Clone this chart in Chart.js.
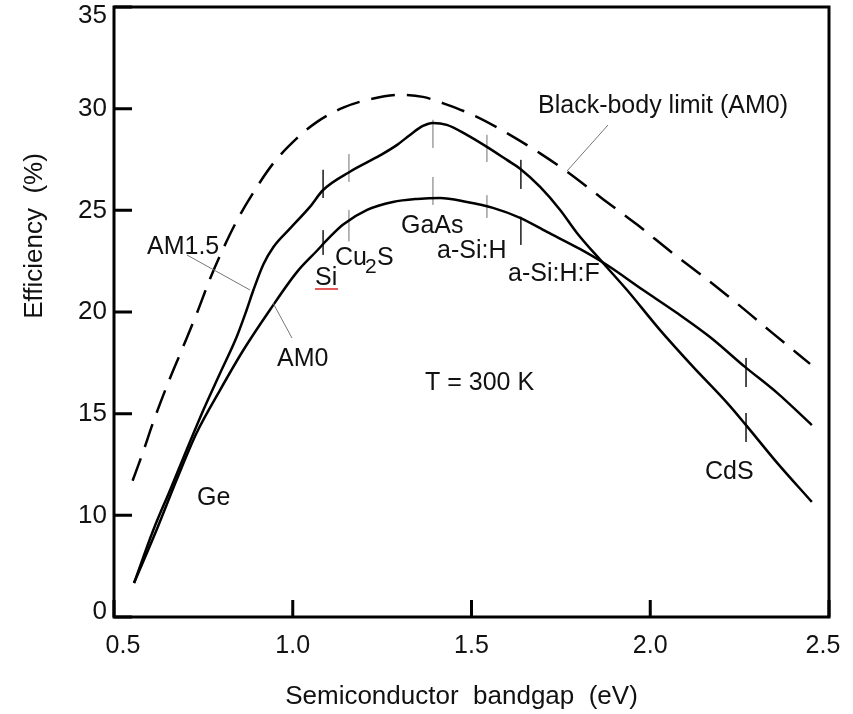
<!DOCTYPE html>
<html>
<head>
<meta charset="utf-8">
<script src="https://cdn.jsdelivr.net/npm/chart.js@4.4.1/dist/chart.umd.min.js"></script>
<style>
  html, body { margin: 0; padding: 0; background: #fff; }
  #wrap { width: 853px; height: 714px; }
</style>
</head>
<body>
<div id="wrap"><canvas id="effChart" width="853" height="714"></canvas></div>
<script>
// bandgap (eV) and efficiency (%)
var bbGap = [0.552, 0.581, 0.609, 0.651, 0.690, 0.732, 0.769, 0.805, 0.844, 0.889, 0.945, 1.012, 1.068, 1.141, 1.208, 1.300, 1.364, 1.431, 1.515, 1.599, 1.692, 1.767, 1.868, 1.963, 2.055, 2.159, 2.251, 2.343, 2.447];
var bbEff = [11.70, 13.10, 14.55, 16.50, 18.15, 19.95, 21.65, 23.10, 24.50, 25.85, 27.30, 28.55, 29.35, 30.05, 30.43, 30.68, 30.58, 30.20, 29.60, 28.80, 27.80, 26.90, 25.55, 24.30, 23.00, 21.60, 20.30, 18.95, 17.45];

var am15Gap = [0.556, 0.610, 0.657, 0.703, 0.750, 0.797, 0.843, 0.871, 0.890, 0.918, 0.946, 0.992, 1.048, 1.085, 1.160, 1.244, 1.292, 1.328, 1.364, 1.392, 1.431, 1.487, 1.543, 1.599, 1.636, 1.692, 1.748, 1.795, 1.868, 1.935, 2.027, 2.120, 2.215, 2.265, 2.355, 2.452];
var am15Eff = [6.67, 9.28, 11.25, 13.21, 15.18, 17.00, 18.77, 20.10, 21.08, 22.35, 23.20, 24.10, 25.17, 26.00, 26.90, 27.70, 28.22, 28.71, 29.15, 29.30, 29.20, 28.71, 28.12, 27.48, 27.05, 26.15, 25.02, 23.89, 22.41, 21.08, 19.12, 17.30, 15.53, 14.50, 12.58, 10.66];

var am0Gap = [0.556, 0.619, 0.675, 0.731, 0.797, 0.862, 0.936, 1.011, 1.067, 1.104, 1.141, 1.208, 1.280, 1.348, 1.412, 1.487, 1.560, 1.636, 1.711, 1.803, 1.879, 1.980, 2.075, 2.167, 2.265, 2.355, 2.452];
var am0Eff = [6.67, 9.28, 11.74, 14.05, 16.17, 18.13, 20.10, 21.95, 23.00, 23.69, 24.30, 25.02, 25.41, 25.56, 25.61, 25.41, 25.12, 24.63, 23.94, 23.10, 22.31, 21.08, 19.95, 18.77, 17.30, 16.02, 14.44];

// material bandgaps and the short vertical marks on the two solid curves
var matNames = ['Si', 'Cu2S', 'GaAs', 'a-Si:H', 'a-Si:H:F', 'CdS'];
var matGap = [1.085, 1.157, 1.392, 1.543, 1.638, 2.268];
var markUpTop = [26.99, 27.77, 29.45, 28.71, 27.48, 17.74];
var markUpBot = [25.61, 26.40, 28.07, 27.38, 26.05, 16.31];
var markLoTop = [24.02, 25.02, 26.64, 25.74, 24.68, 15.03];
var markLoBot = [22.81, 23.48, 25.27, 24.63, 23.30, 13.61];
var markDark = [true, false, false, false, true, true];

// axis ticks (the bottom of the axis is labelled 0 in the original)
var xTickVals = [0.5, 1.0, 1.5, 2.0, 2.5];
var xTickLabels = ['0.5', '1.0', '1.5', '2.0', '2.5'];
var yTickVals = [5, 10, 15, 20, 25, 30, 35];
var yTickLabels = ['0', '10', '15', '20', '25', '30', '35'];

function pts(xs, ys) {
  return xs.map(function (x, i) { return { x: x, y: ys[i] }; });
}

var datasets = [
  { label: 'Black-body limit (AM0)', data: pts(bbGap, bbEff), borderColor: '#000', borderWidth: 2.5, borderDash: [24, 12], cubicInterpolationMode: 'monotone' },
  { label: 'AM1.5', data: pts(am15Gap, am15Eff), borderColor: '#000', borderWidth: 2.5, cubicInterpolationMode: 'monotone' },
  { label: 'AM0', data: pts(am0Gap, am0Eff), borderColor: '#000', borderWidth: 2.5, cubicInterpolationMode: 'monotone' }
];
matGap.forEach(function (g, i) {
  var col = markDark[i] ? '#333' : '#aaa';
  datasets.push({ label: matNames[i] + ' up', data: [{ x: g, y: markUpTop[i] }, { x: g, y: markUpBot[i] }], borderColor: col, borderWidth: 1 });
  datasets.push({ label: matNames[i] + ' lo', data: [{ x: g, y: markLoTop[i] }, { x: g, y: markLoBot[i] }], borderColor: col, borderWidth: 1 });
});

var FONT = '"Liberation Sans", Arial, sans-serif';

var framePlugin = {
  id: 'frame',
  afterDraw: function (chart) {
    var ctx = chart.ctx, a = chart.chartArea;
    var xs = chart.scales.x, ys = chart.scales.y;
    ctx.save();
    ctx.strokeStyle = '#000';
    ctx.lineWidth = 3;
    ctx.strokeRect(a.left, a.top, a.right - a.left, a.bottom - a.top);

    // inward ticks
    ctx.beginPath();
    yTickVals.forEach(function (v) {
      var py = ys.getPixelForValue(v);
      ctx.moveTo(a.left, py); ctx.lineTo(a.left + 18, py);
    });
    xTickVals.forEach(function (v) {
      var px = xs.getPixelForValue(v);
      ctx.moveTo(px, a.bottom); ctx.lineTo(px, a.bottom - 17);
    });
    ctx.stroke();

    // tick labels
    ctx.fillStyle = '#111';
    ctx.font = '26px ' + FONT;
    ctx.textAlign = 'right';
    ctx.textBaseline = 'middle';
    yTickVals.forEach(function (v, i) {
      var py = Math.min(Math.max(ys.getPixelForValue(v), a.top + 9), a.bottom - 5);
      ctx.fillText(yTickLabels[i], a.left - 7, py);
    });
    ctx.font = '25px ' + FONT;
    ctx.textAlign = 'center';
    xTickVals.forEach(function (v, i) {
      var px = Math.min(Math.max(xs.getPixelForValue(v), a.left + 9), a.right - 6);
      ctx.fillText(xTickLabels[i], px, a.bottom + 29);
    });

    // axis titles
    ctx.font = '26px ' + FONT;
    ctx.fillText('Semiconductor  bandgap  (eV)', (a.left + a.right) / 2 - 10, 697);
    ctx.save();
    ctx.translate(35, 236);
    ctx.rotate(-Math.PI / 2);
    ctx.fillText('Efficiency  (%)', 0, 0);
    ctx.restore();

    // leader lines
    ctx.strokeStyle = '#777';
    ctx.lineWidth = 1;
    ctx.beginPath();
    ctx.moveTo(187, 255); ctx.lineTo(250, 290);
    ctx.moveTo(273, 303); ctx.lineTo(292, 338);
    ctx.moveTo(608, 125); ctx.lineTo(567, 171);
    ctx.stroke();

    // curve and material labels
    ctx.fillStyle = '#111';
    ctx.font = '25px ' + FONT;
    ctx.textAlign = 'left';
    ctx.textBaseline = 'middle';
    ctx.fillText('Black-body limit (AM0)', 538, 106);
    ctx.fillText('AM1.5', 147, 247);
    ctx.fillText('AM0', 277, 359);
    ctx.fillText('Si', 315, 278);
    ctx.fillText('Cu', 335, 258);
    ctx.font = '21px ' + FONT;
    ctx.fillText('2', 365, 267);
    ctx.font = '25px ' + FONT;
    ctx.fillText('S', 377, 258);
    ctx.fillText('GaAs', 401, 226);
    ctx.fillText('a-Si:H', 437, 251);
    ctx.fillText('a-Si:H:F', 508, 274);
    ctx.fillText('T = 300 K', 425, 383);
    ctx.fillText('Ge', 197, 498);
    ctx.fillText('CdS', 705, 472);

    // red underline under "Si"
    ctx.strokeStyle = '#d22';
    ctx.lineWidth = 1.5;
    ctx.beginPath();
    ctx.moveTo(315, 289); ctx.lineTo(338, 289);
    ctx.stroke();
    ctx.restore();
  }
};

var effChart = new Chart(document.getElementById('effChart'), {
  type: 'line',
  data: { datasets: datasets },
  options: {
    responsive: false,
    animation: false,
    layout: { padding: { left: 114, right: 24, top: 7, bottom: 97 } },
    elements: { point: { radius: 0 } },
    plugins: { legend: { display: false }, tooltip: { enabled: false } },
    scales: {
      x: { type: 'linear', min: 0.5, max: 2.5, display: false },
      y: { type: 'linear', min: 5, max: 35, display: false }
    }
  },
  plugins: [framePlugin]
});
</script>
</body>
</html>
